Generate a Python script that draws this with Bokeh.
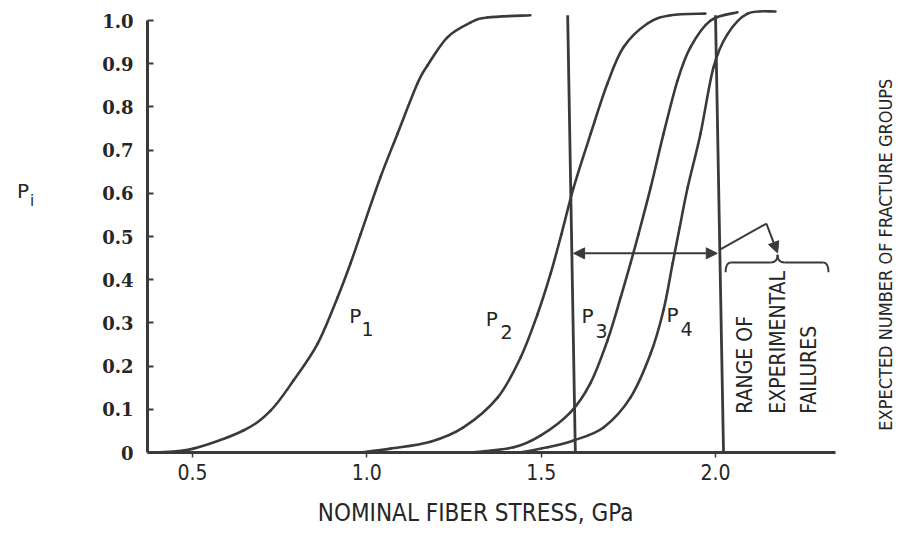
from math import pi
from bokeh.plotting import figure
from bokeh.models import Range1d, FixedTicker, Arrow, NormalHead
from bokeh.core.properties import value
from bokeh.embed import file_html
from bokeh.resources import INLINE

# ---- data ----
p1_x = [0.40, 0.503, 0.646, 0.724, 0.790, 0.859, 0.916, 0.953, 0.982, 1.039, 1.088, 1.145, 1.174, 1.231, 1.297, 1.346, 1.469]
p1_y = [0.0, 0.009, 0.051, 0.097, 0.167, 0.252, 0.359, 0.4375, 0.505, 0.637, 0.738, 0.854, 0.896, 0.961, 0.995, 1.007, 1.012]

p2_x = [0.982, 1.068, 1.183, 1.277, 1.375, 1.441, 1.489, 1.527, 1.558, 1.593, 1.642, 1.690, 1.736, 1.805, 1.871, 1.971]
p2_y = [0.0, 0.009, 0.025, 0.058, 0.127, 0.220, 0.319, 0.414, 0.505, 0.613, 0.738, 0.854, 0.938, 0.993, 1.012, 1.016]

p3_x = [1.297, 1.421, 1.498, 1.584, 1.641, 1.690, 1.728, 1.756, 1.779, 1.814, 1.851, 1.891, 1.928, 1.986, 2.063]
p3_y = [0.0, 0.012, 0.039, 0.093, 0.160, 0.259, 0.359, 0.4375, 0.505, 0.613, 0.738, 0.861, 0.938, 1.000, 1.019]

p4_x = [1.441, 1.518, 1.593, 1.679, 1.756, 1.814, 1.851, 1.877, 1.897, 1.920, 1.957, 1.994, 2.034, 2.092, 2.172]
p4_y = [0.0, 0.012, 0.028, 0.058, 0.127, 0.229, 0.330, 0.4375, 0.520, 0.613, 0.738, 0.891, 0.968, 1.016, 1.021]

# range of experimental failures (hand-drawn bounding lines, top and bottom x)
range_top_x = [1.576, 2.000]
range_bottom_x = [1.598, 2.023]
range_top_y = 1.012
range_arrow_x = [1.593, 2.005]
range_arrow_y = 0.461

curve_names = ["P", "P", "P", "P"]
curve_subs = ["1", "2", "3", "4"]

x_ticks = [0.5, 1.0, 1.5, 2.0]
y_ticks = [0.0, 0.1, 0.2, 0.3, 0.4, 0.5, 0.6, 0.7, 0.8, 0.9, 1.0]
y_tick_labels = ["0", "0.1", "0.2", "0.3", "0.4", "0.5", "0.6", "0.7", "0.8", "0.9", "1.0"]

X_AXIS_LO, X_AXIS_HI = 0.371, 2.344
Y_AXIS_LO, Y_AXIS_HI = 0.0, 1.0

# ---- figure ----
INK = "#3a3a3a"
TXT = "#262626"

p = figure(width=912, height=555, output_backend="svg", toolbar_location=None,
           x_range=Range1d(-0.0507, 2.5650), y_range=Range1d(-0.2384, 1.0463),
           min_border_left=0, min_border_right=0, min_border_top=0, min_border_bottom=0)
p.outline_line_color = None
p.xgrid.grid_line_color = None
p.ygrid.grid_line_color = None
p.background_fill_color = "white"
p.border_fill_color = "white"

# y axis
ya = p.yaxis[0]
ya.fixed_location = X_AXIS_LO
ya.ticker = FixedTicker(ticks=y_ticks)
ya.major_label_overrides = {t: l for t, l in zip(y_ticks, y_tick_labels)}
ya.bounds = (Y_AXIS_LO, Y_AXIS_HI)
ya.axis_line_width = 3
ya.axis_line_color = INK
ya.major_tick_in = 6
ya.major_tick_out = 0
ya.major_tick_line_width = 2
ya.major_tick_line_color = INK
ya.minor_tick_line_color = None
ya.major_label_standoff = 14
ya.major_label_text_font = "DejaVu Serif"
ya.major_label_text_font_style = "bold"
ya.major_label_text_font_size = "18px"
ya.major_label_text_color = TXT

# x axis
xa = p.xaxis[0]
xa.fixed_location = Y_AXIS_LO
xa.ticker = FixedTicker(ticks=x_ticks)
xa.major_label_overrides = {t: f"{t:.1f}" for t in x_ticks}
xa.bounds = (X_AXIS_LO, X_AXIS_HI)
xa.axis_line_width = 3
xa.axis_line_color = INK
xa.major_tick_in = 0
xa.major_tick_out = 5
xa.major_tick_line_width = 1.5
xa.major_tick_line_color = INK
xa.minor_tick_line_color = None
xa.major_label_standoff = 6
xa.major_label_text_font = "DejaVu Sans Condensed"
xa.major_label_text_font_size = "21px"
xa.major_label_text_color = TXT


def smooth(xs, ys):
    """Catmull-Rom curve through the read points, drawn as cubic Bezier pieces."""
    n = len(xs)
    X = [xs[0]] + list(xs) + [xs[-1]]
    Y = [ys[0]] + list(ys) + [ys[-1]]
    out = {k: [] for k in ("x0", "y0", "x1", "y1", "cx0", "cy0", "cx1", "cy1")}
    for i in range(1, n):
        out["x0"].append(X[i]); out["y0"].append(Y[i])
        out["x1"].append(X[i + 1]); out["y1"].append(Y[i + 1])
        out["cx0"].append(X[i] + (X[i + 1] - X[i - 1]) / 6.0)
        out["cy0"].append(Y[i] + (Y[i + 1] - Y[i - 1]) / 6.0)
        out["cx1"].append(X[i + 1] - (X[i + 2] - X[i]) / 6.0)
        out["cy1"].append(Y[i + 1] - (Y[i + 2] - Y[i]) / 6.0)
    return out


# curves
for xs, ys in [(p1_x, p1_y), (p2_x, p2_y), (p3_x, p3_y), (p4_x, p4_y)]:
    p.bezier(**smooth(xs, ys), line_color=INK, line_width=2.6, line_cap="round")

# range lines
p.segment(x0=range_bottom_x, y0=[0.0, 0.0], x1=range_top_x, y1=[range_top_y, range_top_y],
          line_color=INK, line_width=2.8)

# double arrow between range limits
p.add_layout(Arrow(x_start=range_arrow_x[0], y_start=range_arrow_y,
                   x_end=range_arrow_x[1], y_end=range_arrow_y,
                   line_color=INK, line_width=2,
                   start=NormalHead(size=11, fill_color=INK, line_color=INK),
                   end=NormalHead(size=11, fill_color=INK, line_color=INK)))

# pointer from range line to brace
p.line([2.014, 2.146], [0.470, 0.530], line_color=INK, line_width=2)
p.add_layout(Arrow(x_start=2.146, y_start=0.530, x_end=2.178, y_end=0.462,
                   line_color=INK, line_width=2,
                   end=NormalHead(size=11, fill_color=INK, line_color=INK)))

# curly brace
xl, xr, xm = 2.029, 2.324, 2.178
yb, ye, yt = 0.440, 0.417, 0.458
p.quadratic(x0=[xl, xm - 0.02, xm, xr - 0.015], y0=[ye, yb, yt, yb],
            x1=[xl + 0.015, xm, xm + 0.02, xr], y1=[yb, yt, yb, ye],
            cx=[xl, xm, xm, xr], cy=[yb, yb, yb, yb],
            line_color=INK, line_width=2)
p.segment(x0=[xl + 0.015, xm + 0.02], y0=[yb, yb], x1=[xm - 0.02, xr - 0.015], y1=[yb, yb],
          line_color=INK, line_width=2)

# curve labels
p.text(x=[0.967, 1.358, 1.633, 1.877], y=[0.315, 0.310, 0.317, 0.319], text=curve_names,
       text_font=value("DejaVu Sans"), text_font_size="20px", text_color=TXT,
       text_align="center", text_baseline="middle")
p.text(x=[1.002, 1.401, 1.673, 1.917], y=[0.285, 0.278, 0.282, 0.285], text=curve_subs,
       text_font=value("DejaVu Sans"), text_font_size="19px", text_color=TXT,
       text_align="center", text_baseline="middle")

# range text (rotated)
p.text(x=[2.086, 2.178, 2.267], y=[0.090, 0.090, 0.090],
       text=["RANGE OF", "EXPERIMENTAL", "FAILURES"], angle=pi / 2,
       text_font=value("DejaVu Sans Condensed"), text_font_size="21px", text_color=TXT,
       text_align="left", text_baseline="middle")

# y label P_i
p.text(x=[0.014], y=[0.606], text=["P"], text_font=value("DejaVu Sans"), text_font_size="20px",
       text_color=TXT, text_align="center", text_baseline="middle")
p.text(x=[0.040], y=[0.583], text=["i"], text_font=value("DejaVu Sans"), text_font_size="15px",
       text_color=TXT, text_align="center", text_baseline="middle")

# x title
p.text(x=[1.312], y=[-0.141], text=["NOMINAL FIBER STRESS, GPa"],
       text_font=value("DejaVu Sans Condensed"), text_font_size="24px",
       text_color=TXT, text_align="center", text_baseline="middle")

# right label
p.text(x=[2.488], y=[0.458], text=["EXPECTED NUMBER OF FRACTURE GROUPS"], angle=pi / 2,
       text_font=value("DejaVu Sans Condensed"), text_font_size="18px",
       text_color=TXT, text_align="center", text_baseline="middle")

open("out.html", "w").write(file_html(p, INLINE))
